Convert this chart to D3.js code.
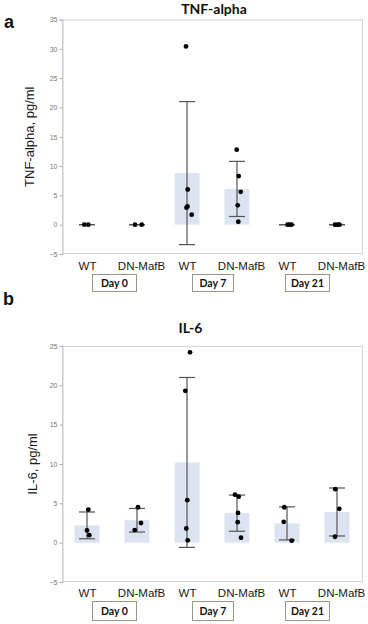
<!DOCTYPE html>
<html>
<head>
<meta charset="utf-8">
<script src="https://cdn.jsdelivr.net/npm/d3@7"></script>
<style>
  html, body { margin: 0; padding: 0; background: #fff; }
  svg { display: block; }
</style>
</head>
<body>
<svg id="chart" width="368" height="624"></svg>
<script>
// ---------- DATA ----------
const categories = ["WT d0", "DN-MafB d0", "WT d7", "DN-MafB d7", "WT d21", "DN-MafB d21"];
const categoryLabels = ["WT", "DN-MafB", "WT", "DN-MafB", "WT", "DN-MafB"];
const dayLabels = ["Day 0", "Day 7", "Day 21"];

// TNF-alpha (pg/ml)
const tnfMeans = [0, 0, 8.8, 6.1, 0, 0];
const tnfSD = [0, 0, 12.2, 4.7, 0, 0];
const tnfPoints = [
  [0, 0],
  [0, 0],
  [30.4, 6.0, 3.1, 2.9, 1.7],
  [12.8, 8.3, 5.6, 3.3, 0.5],
  [0, 0, 0],
  [0, 0, 0]
];
const tnfTicks = [-5, 0, 5, 10, 15, 20, 25, 30, 35];

// IL-6 (pg/ml)
const il6Means = [2.2, 2.85, 10.2, 3.75, 2.45, 3.9];
const il6SD = [1.7, 1.5, 10.8, 2.3, 2.1, 3.05];
const il6Points = [
  [4.2, 1.55, 0.95],
  [4.5, 2.5, 1.6],
  [24.2, 19.3, 5.4, 1.8, 0.3],
  [6.1, 5.85, 3.78, 2.6, 0.64],
  [4.5, 2.65, 0.25],
  [6.8, 4.3, 0.75]
];
const il6Ticks = [-5, 0, 5, 10, 15, 20, 25];

// ---------- LAYOUT (jitter in px, not data) ----------
const tnfJitter = [[-2.7, 1.3], [-2, 4.7], [-1, 0.7, 0.5, -0.5, 4.7], [-0.3, 1.7, 3.7, 0.7, 1.3], [0.5, 2.5, 4.5], [-2, 0.5, 2.5]];
const il6Jitter = [[1.3, 0, 2.3], [1, 4, -2.3], [3, -1.7, 0.3, -0.7, 0.7], [-2, 1.7, 1, 0.7, 4], [-2.7, -3.3, 4.7], [-1.7, 2.3, -2]];
const dayBoxes = [[92, 136], [192, 233], [285, 329]];

const svg = d3.select("#chart");

function panel(opt) {
  const g = svg.append("g");
  const x = d3.scalePoint().domain(categories).range([62, 362]).padding(0.5);
  const y = d3.scaleLinear().domain([opt.ticks[0], opt.ticks[opt.ticks.length - 1]]).range([opt.bottom, opt.top]);

  // frame
  g.append("rect")
    .attr("x", 62.5).attr("y", y(opt.ticks[opt.ticks.length - 1]) + 0.5)
    .attr("width", 300).attr("height", opt.bottom - opt.top - 1)
    .attr("fill", "none").attr("stroke", "#d4d4d4").attr("stroke-width", 1);

  // y axis
  const ax = g.append("g").attr("transform", "translate(62.5,0)")
    .call(d3.axisLeft(y).tickValues(opt.ticks).tickSize(3).tickPadding(2).tickFormat(d3.format("d")));
  ax.select(".domain").attr("stroke", "#c8c8c8");
  ax.selectAll(".tick line").attr("stroke", "#aaa");
  ax.selectAll(".tick text").attr("fill", "#777").style("font-family", "Liberation Sans, Arial, sans-serif").style("font-size", "7px");

  // bars
  g.selectAll(".bar").data(opt.means).enter().append("rect")
    .attr("x", (d, i) => x(categories[i]) - 12.5)
    .attr("width", 25)
    .attr("y", d => y(Math.max(d, 0)))
    .attr("height", d => Math.abs(y(0) - y(d)))
    .attr("fill", "#dce3f1");

  // error bars
  opt.means.forEach((m, i) => {
    const cx = x(categories[i]);
    const hi = m + opt.sd[i], lo = m - opt.sd[i];
    const eg = g.append("g").attr("stroke", "#555").attr("stroke-width", 1.2);
    eg.append("line").attr("x1", cx).attr("x2", cx).attr("y1", y(hi)).attr("y2", y(lo));
    eg.append("line").attr("x1", cx - 8).attr("x2", cx + 8).attr("y1", y(hi)).attr("y2", y(hi));
    eg.append("line").attr("x1", cx - 8).attr("x2", cx + 8).attr("y1", y(lo)).attr("y2", y(lo));
  });

  // points
  opt.points.forEach((arr, i) => {
    const cx = x(categories[i]);
    g.selectAll(null).data(arr).enter().append("circle")
      .attr("cx", (d, j) => cx + opt.jitter[i][j])
      .attr("cy", d => y(d))
      .attr("r", 2.4)
      .attr("fill", "#000");
  });

  // category labels
  g.selectAll(".cat").data(categoryLabels).enter().append("text")
    .attr("x", (d, i) => x(categories[i]) + (d === "WT" ? 0.5 : 4.5))
    .attr("y", opt.labelY)
    .attr("text-anchor", "middle")
    .style("font-family", "Liberation Sans, Arial, sans-serif")
    .style("font-size", "11.5px")
    .attr("fill", "#1a1a1a")
    .text(d => d);

  // day boxes
  dayLabels.forEach((d, k) => {
    const [x0, x1] = dayBoxes[k];
    g.append("rect").attr("x", x0 + 0.5).attr("y", opt.boxTop + 0.5)
      .attr("width", x1 - x0).attr("height", opt.boxH)
      .attr("fill", "#fff").attr("stroke", "#9a9482").attr("stroke-width", 1);
    g.append("text").attr("x", (x0 + x1) / 2 + 0.5).attr("y", opt.boxTop + opt.boxH / 2 + 4)
      .attr("text-anchor", "middle")
      .style("font-family", "Lato, 'Open Sans', sans-serif").style("font-weight", "bold").style("font-size", "10.5px")
      .attr("fill", "#111").text(d);
  });

  // title
  g.append("text").attr("x", opt.titleX).attr("y", opt.titleY)
    .attr("text-anchor", "middle")
    .style("font-family", "Lato, 'Open Sans', sans-serif").style("font-weight", "bold").style("font-size", "14px")
    .attr("fill", "#111").text(opt.title);

  // y label
  g.append("text")
    .attr("transform", `translate(${opt.yLabelX},${(opt.top + opt.bottom) / 2}) rotate(-90)`)
    .attr("text-anchor", "middle")
    .style("font-family", "Liberation Sans, Arial, sans-serif").style("font-size", "13px")
    .attr("fill", "#1a1a1a").text(opt.yLabel);

  // panel letter
  g.append("text").attr("x", opt.letterX).attr("y", opt.letterY)
    .style("font-family", "Liberation Sans, Arial, sans-serif").style("font-weight", "bold").style("font-size", "18px")
    .attr("fill", "#111").text(opt.letter);
}

panel({
  means: tnfMeans, sd: tnfSD, points: tnfPoints, jitter: tnfJitter, ticks: tnfTicks,
  top: 19.5, bottom: 254, labelY: 270, boxTop: 274, boxH: 17,
  title: "TNF-alpha", titleX: 214, titleY: 13.5,
  yLabel: "TNF-alpha, pg/ml", yLabelX: 34, letter: "a", letterX: 4, letterY: 28
});

panel({
  means: il6Means, sd: il6SD, points: il6Points, jitter: il6Jitter, ticks: il6Ticks,
  top: 346, bottom: 582, labelY: 597, boxTop: 601, boxH: 19,
  title: "IL-6", titleX: 190.5, titleY: 333,
  yLabel: "IL-6, pg/ml", yLabelX: 37, letter: "b", letterX: 3, letterY: 305
});
</script>
</body>
</html>
